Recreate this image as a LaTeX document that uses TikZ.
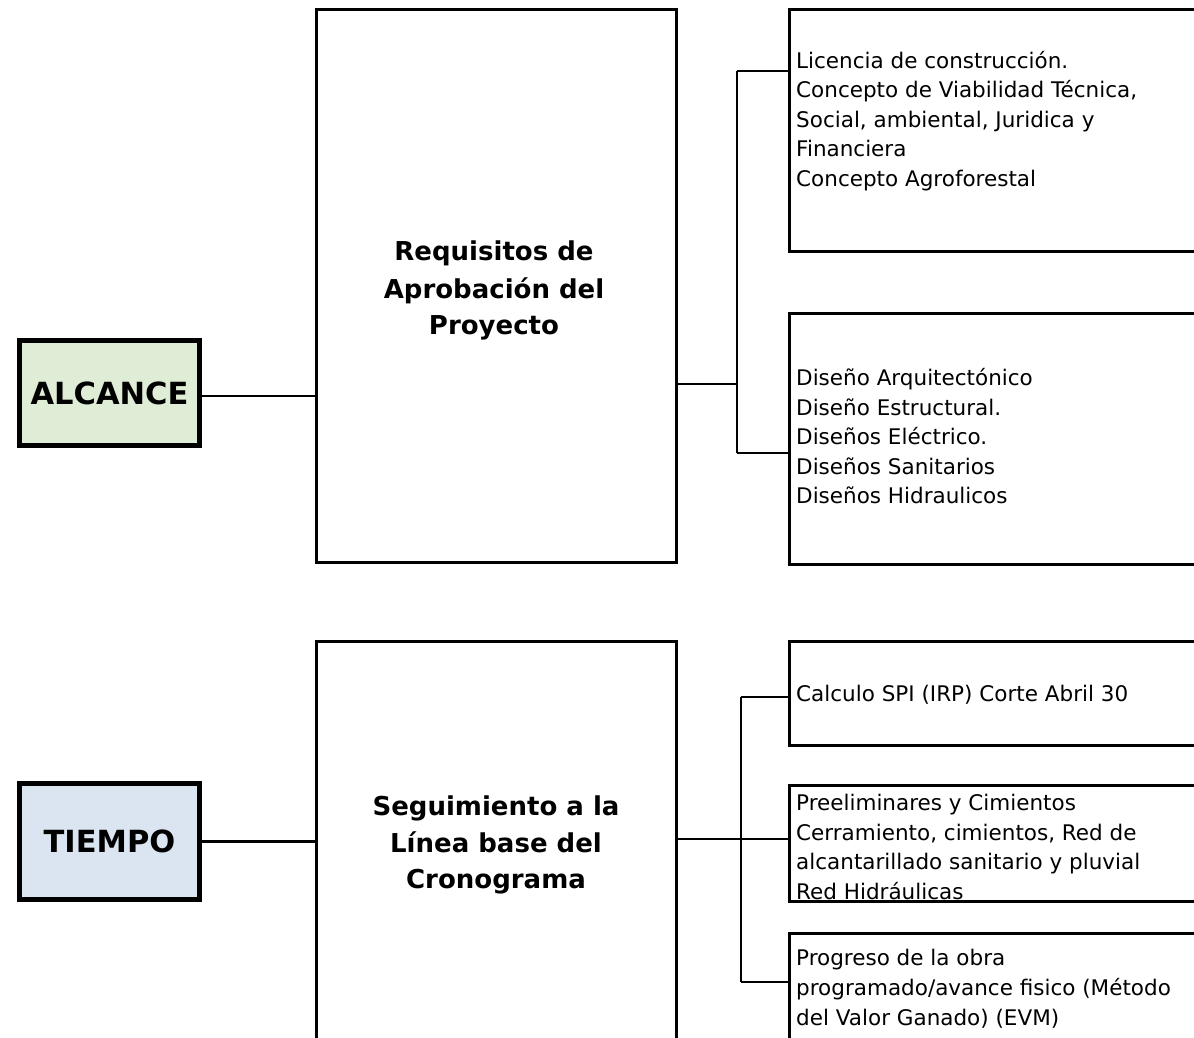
\documentclass[tikz,border=0pt]{standalone}
\usepackage{fontspec}
\setmainfont{DejaVu Sans}
\definecolor{alcfill}{RGB}{223,236,214}
\definecolor{tiefill}{RGB}{219,229,241}
\tikzset{
  thickbox/.style={draw=black, line width=5.5pt, inner sep=0pt, outer sep=0pt, anchor=north west,
    font=\fontsize{30.5}{36}\selectfont\bfseries},
  plainbox/.style={draw=black, line width=3pt, inner sep=0pt, outer sep=0pt, anchor=north west, fill=white},
  conn/.style={draw=black, line width=2.5pt},
  itemtxt/.style={anchor=base west, inner sep=0pt, font=\fontsize{21.5}{29.5}\selectfont},
  titletxt/.style={anchor=base, inner sep=0pt, font=\fontsize{26}{37}\selectfont\bfseries}
}
\begin{document}
\begin{tikzpicture}[x=1pt, y=-1pt]
\clip (0,0) rectangle (1194,1037);
\fill[white] (0,0) rectangle (1194,1037);

% left category boxes
\node[thickbox, fill=alcfill, minimum width=180pt, minimum height=105pt] (al) at (19.5,340.5) {ALCANCE};
\node[thickbox, fill=tiefill, minimum width=180pt, minimum height=116pt] (ti) at (19.5,783.5) {TIEMPO};

% middle boxes
\node[plainbox, minimum width=360pt, minimum height=553pt] (m1) at (316,9) {};
\node[plainbox, minimum width=360pt, minimum height=420pt] (m2) at (316,641) {};

% right boxes
\node[plainbox, minimum width=420pt, minimum height=242pt] (r1) at (789,9) {};
\node[plainbox, minimum width=420pt, minimum height=251pt] (r2) at (789,313) {};
\node[plainbox, minimum width=420pt, minimum height=104pt] (r3) at (789,641) {};
\node[plainbox, minimum width=420pt, minimum height=116pt] (r4) at (789,785) {};
\node[plainbox, minimum width=420pt, minimum height=120pt] (r5) at (789,933) {};

% titles
\node[titletxt] (t1a) at (494,260) {Requisitos de};
\node[titletxt] (t1b) at (494,298) {Aprobación del};
\node[titletxt] (t1c) at (494,334) {Proyecto};
\node[titletxt] (t2a) at (496,815) {Seguimiento a la};
\node[titletxt] (t2b) at (496,852) {Línea base del};
\node[titletxt] (t2c) at (496,888) {Cronograma};

% item texts
\node[itemtxt] (i1a) at (796,68) {Licencia de construcción.};
\node[itemtxt] (i1b) at (796,97.5) {Concepto de Viabilidad Técnica,};
\node[itemtxt] (i1c) at (796,127) {Social, ambiental, Juridica y};
\node[itemtxt] (i1d) at (796,156.5) {Financiera};
\node[itemtxt] (i1e) at (796,186) {Concepto Agroforestal};

\node[itemtxt] (i2a) at (796,385) {Diseño Arquitectónico};
\node[itemtxt] (i2b) at (796,415) {Diseño Estructural.};
\node[itemtxt] (i2c) at (796,444.5) {Diseños Eléctrico.};
\node[itemtxt] (i2d) at (796,474) {Diseños Sanitarios};
\node[itemtxt] (i2e) at (796,503.5) {Diseños Hidraulicos};

\node[itemtxt] (i3a) at (796,701) {Calculo SPI (IRP) Corte Abril 30};

\node[itemtxt] (i4a) at (796,810) {Preeliminares y Cimientos};
\node[itemtxt] (i4b) at (796,840) {Cerramiento, cimientos, Red de};
\node[itemtxt] (i4c) at (796,869.5) {alcantarillado sanitario y pluvial};
\node[itemtxt] (i4d) at (796,899) {Red Hidráulicas};

\node[itemtxt] (i5a) at (796,965) {Progreso de la obra};
\node[itemtxt] (i5b) at (796,995) {programado/avance fisico (Método};
\node[itemtxt] (i5c) at (796,1025) {del Valor Ganado) (EVM)};

% connectors: ALCANCE branch
\draw[conn] ([yshift=-3pt]al.east) -- ([yshift=-3pt]al.east -| m1.west);
\coordinate (j1) at (737,384);
\coordinate (b1) at (737,71);
\coordinate (b2) at (737,453);
\draw[conn] (m1.east |- j1) -- (j1);
\draw[conn] (b1) -- (b2);
\draw[conn] (b1) -- (b1 -| r1.west);
\draw[conn] (b2) -- (b2 -| r2.west);

% connectors: TIEMPO branch
\draw[conn] (ti.east) -- (ti.east -| m2.west);
\coordinate (j2) at (741,839);
\coordinate (b3) at (741,697);
\coordinate (b5) at (741,982);
\draw[conn] (m2.east |- j2) -- (j2 -| r4.west);
\draw[conn] (b3) -- (b5);
\draw[conn] (b3) -- (b3 -| r3.west);
\draw[conn] (b5) -- (b5 -| r5.west);
\end{tikzpicture}
\end{document}
